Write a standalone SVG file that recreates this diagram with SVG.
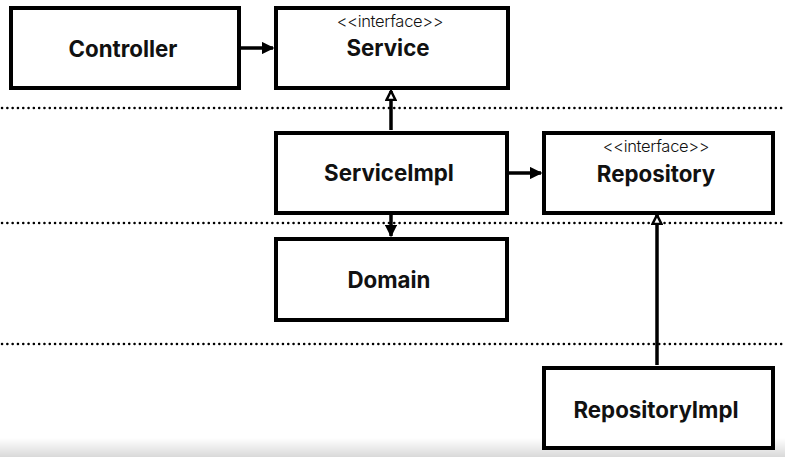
<svg xmlns="http://www.w3.org/2000/svg" width="785" height="457" viewBox="0 0 785 457">
<style>
.box{fill:#fff;stroke:#000;stroke-width:4}
.name{font-family:Inter,"Liberation Sans",sans-serif;font-weight:700;font-size:22.3px;text-anchor:middle;fill:#111}
.stereo{font-family:Inter,"Liberation Sans",sans-serif;font-weight:300;font-size:16.5px;letter-spacing:-0.3px;text-anchor:middle;fill:#111}
.sep{stroke:#000;stroke-width:2.5;stroke-dasharray:0.1 5.2;stroke-linecap:round;fill:none}
.conn{stroke:#000;stroke-width:3.5;fill:none}
</style>
<defs>
<linearGradient id="bar" x1="0" y1="0" x2="0" y2="1">
<stop offset="0" stop-color="#ffffff"/>
<stop offset="1" stop-color="#d9d9d9"/>
</linearGradient>
<marker id="filled" viewBox="0 0 10 10" refX="9" refY="5" markerWidth="3.6" markerHeight="3.6" orient="auto" markerUnits="strokeWidth">
<path d="M0,0 L10,5 L0,10 Z" fill="#000"/>
</marker>
<marker id="hollow" viewBox="0 0 12 12" refX="10.5" refY="6" markerWidth="3.4" markerHeight="3.4" orient="auto" markerUnits="strokeWidth">
<path d="M1.5,1.5 L10.5,6 L1.5,10.5 Z" fill="#fff" stroke="#000" stroke-width="2.5"/>
</marker>
</defs>
<rect x="0" y="0" width="785" height="457" fill="#fff"/>
<rect x="0" y="438" width="785" height="19" fill="url(#bar)"/>
<g id="separators">
<line class="sep" x1="2" y1="108" x2="785" y2="108"/>
<line class="sep" x1="2" y1="223" x2="785" y2="223"/>
<line class="sep" x1="2" y1="344" x2="785" y2="344"/>
</g>
<g id="connectors">
<line class="conn" x1="241" y1="48" x2="273" y2="48" marker-end="url(#filled)"/>
<line class="conn" x1="391" y1="130" x2="391" y2="91" marker-end="url(#hollow)"/>
<line class="conn" x1="509" y1="173" x2="541" y2="173" marker-end="url(#filled)"/>
<line class="conn" x1="391" y1="215" x2="391" y2="236" marker-end="url(#filled)"/>
<line class="conn" x1="657" y1="365" x2="657" y2="215" marker-end="url(#hollow)"/>
</g>
<g id="controller">
<rect class="box" x="11" y="8" width="228" height="80"/>
<text class="name" x="123" y="57">Controller</text>
</g>
<g id="service">
<rect class="box" x="276" y="8" width="232" height="80"/>
<text class="stereo" x="390" y="27">&lt;&lt;interface&gt;&gt;</text>
<text class="name" x="388" y="56">Service</text>
</g>
<g id="serviceimpl">
<rect class="box" x="276" y="133" width="231" height="80"/>
<text class="name" x="389" y="181">ServiceImpl</text>
</g>
<g id="repository">
<rect class="box" x="544" y="133" width="229" height="80"/>
<text class="stereo" x="656" y="152">&lt;&lt;interface&gt;&gt;</text>
<text class="name" x="656" y="182">Repository</text>
</g>
<g id="domain">
<rect class="box" x="276" y="239" width="231" height="81"/>
<text class="name" x="389" y="288">Domain</text>
</g>
<g id="repositoryimpl">
<rect class="box" x="544" y="368" width="229" height="80"/>
<text class="name" x="656" y="418">RepositoryImpl</text>
</g>
</svg>
